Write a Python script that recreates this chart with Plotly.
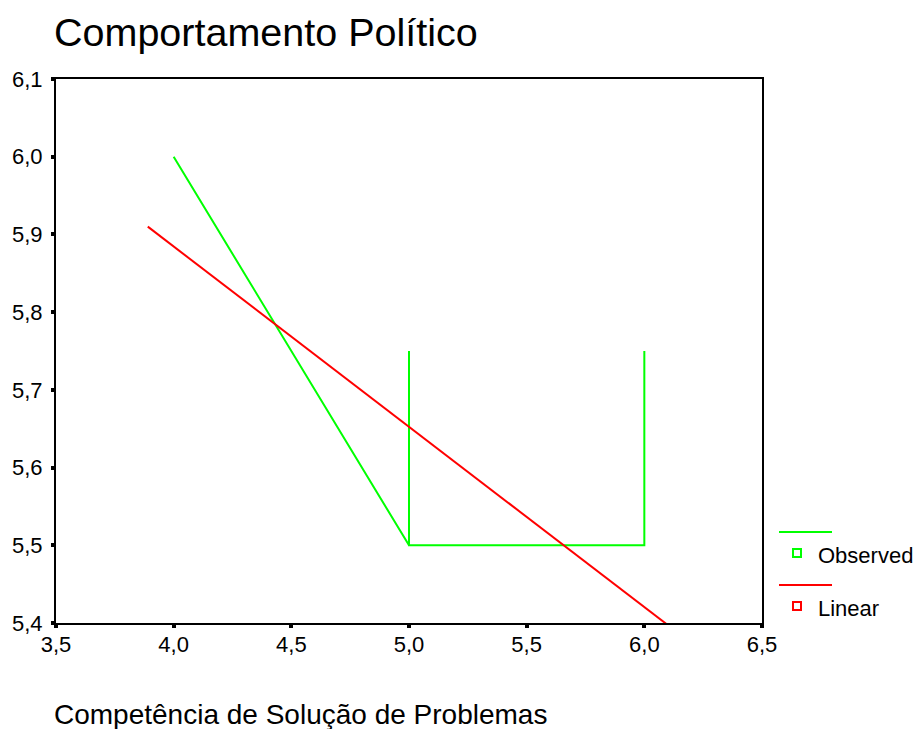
import plotly.graph_objects as go

# Observed means by score (connected in x order)
obs_x = [4.0, 5.0, 5.0, 5.0, 6.0, 6.0]
obs_y = [6.00, 5.50, 5.75, 5.50, 5.50, 5.75]

# Fitted linear model, drawn across the data range
lin_x = [3.89, 6.11]
lin_y = [5.910, 5.395]

x_ticks = [3.5, 4.0, 4.5, 5.0, 5.5, 6.0, 6.5]
y_ticks = [5.4, 5.5, 5.6, 5.7, 5.8, 5.9, 6.0, 6.1]

title_text = "Comportamento Político"
x_title = "Competência de Solução de Problemas"
legend_labels = ["Observed", "Linear"]
green = "#00FF00"
red = "#FF0000"
FONT = "Liberation Sans, Arial, sans-serif"

fig = go.Figure()
fig.add_trace(go.Scatter(x=obs_x, y=obs_y, mode="lines",
                         line=dict(color=green, width=2), showlegend=False))
fig.add_trace(go.Scatter(x=lin_x, y=lin_y, mode="lines",
                         line=dict(color=red, width=2), showlegend=False))

axis_common = dict(showline=True, linecolor="black", linewidth=2, mirror=True,
                   showgrid=False, zeroline=False, ticks="outside",
                   ticklen=3, tickwidth=4, tickcolor="black",
                   tickfont=dict(family=FONT, size=22, color="black"),
                   tickformat=".1f")

fig.update_xaxes(range=[3.5, 6.5], tickvals=x_ticks, ticklabelstandoff=-2, **axis_common)
fig.update_yaxes(range=[5.4, 6.1], tickvals=y_ticks, ticklabelstandoff=4, **axis_common)

# Custom legend: line sample above, square swatch and label below
for i, (lab, col) in enumerate(zip(legend_labels, [green, red])):
    y0 = 532 + i * 53
    fig.add_shape(type="line", xref="paper", yref="paper",
                  x0=(779 - 56) / 706, x1=(832 - 56) / 706,
                  y0=(623 - y0) / 544, y1=(623 - y0) / 544,
                  line=dict(color=col, width=2))
    ys = y0 + 21
    fig.add_shape(type="rect", xref="paper", yref="paper",
                  x0=(793 - 56) / 706, x1=(801 - 56) / 706,
                  y0=(623 - ys - 4) / 544, y1=(623 - ys + 4) / 544,
                  line=dict(color=col, width=2), fillcolor="white")
    fig.add_annotation(xref="paper", yref="paper",
                       x=(816 - 56) / 706, y=(623 - ys - 2) / 544,
                       text=lab, showarrow=False, xanchor="left", yanchor="middle",
                       font=dict(family=FONT, size=22, color="black"))

fig.add_annotation(xref="paper", yref="paper", x=(52 - 56) / 706, y=(623 - 32) / 544,
                   text=title_text, showarrow=False, xanchor="left", yanchor="middle",
                   font=dict(family=FONT, size=39.5, color="black"))
fig.add_annotation(xref="paper", yref="paper", x=(52 - 56) / 706, y=(623 - 714) / 544,
                   text=x_title, showarrow=False, xanchor="left", yanchor="middle",
                   font=dict(family=FONT, size=28, color="black"))

fig.update_layout(width=914, height=729, separators=",.",
                  margin=dict(l=56, r=152, t=79, b=106),
                  paper_bgcolor="white", plot_bgcolor="white",
                  font=dict(family=FONT, color="black"))

fig.write_html("out.html")
